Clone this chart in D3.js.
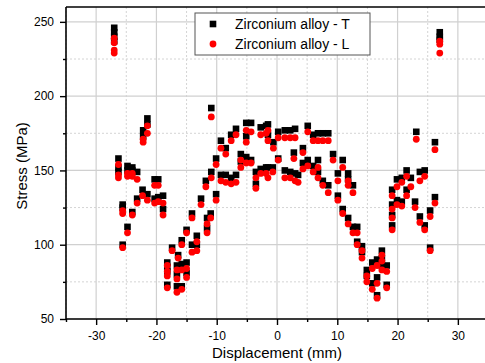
<!DOCTYPE html>
<html>
<head>
<meta charset="utf-8">
<script src="https://cdn.jsdelivr.net/npm/d3@7"></script>
<style>
  body { margin: 0; background: #fff; }
  svg { display: block; font-family: Arial, "Liberation Sans", sans-serif; }
</style>
</head>
<body>
<svg id="chart" width="485" height="363"></svg>
<script>
// displacement (mm) of each measuring point
const displacement = [
  -27.0, -27.0, -27.0, -27.0, -26.3, -26.3, -26.3, -25.6, -25.6, -25.6,
  -24.8, -24.8, -24.8, -24.0, -24.0, -24.0, -23.2, -23.2, -22.3, -22.2,
  -22.2, -21.5, -21.5, -21.5, -20.3, -20.3, -19.7, -19.7, -18.9, -18.9,
  -18.2, -18.2, -18.2, -18.2, -17.4, -16.6, -16.6, -16.6, -16.4, -15.8,
  -15.8, -15.8, -15.0, -15.0, -15.0, -14.1, -14.1, -13.3, -13.3, -12.6,
  -11.8, -11.6, -11.6, -11.0, -10.9, -10.9, -10.1, -10.1, -9.3, -9.3,
  -8.5, -8.5, -7.6, -7.6, -6.8, -6.8, -6.0, -6.0, -5.1, -5.1,
  -5.1, -4.3, -4.3, -3.5, -3.5, -2.7, -2.7, -1.8, -1.8, -1.5,
  -1.5, -1.5, -0.7, -0.6, 0.2, 0.2, 1.3, 1.3, 2.2, 2.2,
  2.8, 3.0, 3.0, 3.5, 4.3, 4.3, 5.1, 5.1, 6.0, 6.0,
  6.8, 6.8, 6.8, 7.6, 7.6, 8.5, 8.5, 9.3, 10.1, 10.1,
  10.9, 10.9, 11.8, 11.8, 11.8, 12.6, 12.6, 13.3, 13.3, 14.1,
  14.1, 14.9, 14.9, 15.8, 15.8, 16.6, 16.6, 16.6, 17.4, 17.4,
  17.4, 18.2, 18.2, 19.1, 19.1, 19.1, 19.1, 19.9, 19.9, 20.7,
  20.7, 21.5, 21.5, 22.2, 22.9, 23.1, 23.7, 23.7, 24.5, 24.5,
  25.4, 25.4, 26.2, 26.2, 27.0, 27.0, 27.0
];

// Zirconium alloy - T (MPa)
const stressT = [
  246, 243, 240, 237, 158, 152, 149, 127, 125, 100,
  153, 150, 112, 152, 150, 122, 149, 131, 137, 177,
  173, 185, 181, 134, 144, 131, 144, 132, 133, 124,
  88, 85, 82, 73, 98, 86, 80, 72, 93, 103,
  87, 72, 110, 88, 81, 121, 100, 106, 100, 131,
  143, 118, 111, 121, 192, 149, 158, 134, 170, 147,
  165, 147, 174, 145, 178, 147, 161, 156, 182, 173,
  159, 182, 157, 149, 141, 179, 151, 180, 152, 181,
  174, 152, 152, 169, 176, 158, 177, 150, 177, 149,
  162, 178, 148, 147, 165, 155, 180, 157, 174, 153,
  175, 157, 149, 175, 143, 175, 140, 161, 148, 133,
  157, 124, 148, 144, 118, 140, 112, 112, 102, 99,
  95, 83, 79, 88, 74, 90, 78, 66, 96, 91,
  86, 86, 73, 137, 127, 120, 113, 144, 130, 145,
  129, 150, 137, 145, 129, 176, 149, 119, 150, 113,
  123, 98, 169, 132, 243, 240, 238
];

// Zirconium alloy - L (MPa)
const stressL = [
  239, 236, 231, 229, 154, 147, 145, 123, 121, 98,
  148, 146, 108, 148, 146, 120, 144, 128, 133, 171,
  169, 180, 175, 130, 140, 128, 140, 129, 128, 120,
  86, 82, 79, 71, 96, 83, 77, 68, 91, 100,
  83, 70, 108, 84, 78, 118, 95, 102, 96, 127,
  139, 114, 108, 118, 186, 145, 154, 130, 165, 143,
  161, 142, 170, 141, 174, 142, 157, 152, 177, 169,
  155, 176, 155, 145, 138, 174, 148, 175, 148, 177,
  170, 145, 149, 165, 172, 157, 172, 145, 172, 145,
  158, 172, 143, 142, 162, 151, 176, 153, 170, 149,
  170, 152, 145, 170, 140, 170, 135, 157, 143, 130,
  152, 121, 143, 140, 114, 135, 108, 108, 100, 96,
  91, 79, 75, 84, 70, 86, 74, 64, 93, 89,
  83, 82, 71, 133, 124, 118, 110, 139, 127, 142,
  126, 146, 133, 139, 125, 171, 143, 115, 146, 110,
  119, 96, 164, 128, 237, 235, 229
];

const xTicks = [-30, -20, -10, 0, 10, 20, 30];
const xMinor = [-35, -25, -15, -5, 5, 15, 25, 35];
const yTicks = [50, 100, 150, 200, 250];
const yMinor = [75, 125, 175, 225];
const seriesNames = ["Zirconium alloy - T", "Zirconium alloy - L"];

const svg = d3.select("#chart");
const plotLeft = 66, plotRight = 488, plotTop = 7, plotBottom = 319;

const x = d3.scaleLinear().domain([-35, 35]).range([plotLeft, plotRight]);
const y = d3.scaleLinear().domain([50, 260]).range([plotBottom, plotTop]);

// grid lines
const grid = svg.append("g");
grid.selectAll(".vmin").data(xMinor).enter().append("line")
  .attr("x1", d => x(d)).attr("x2", d => x(d)).attr("y1", plotTop).attr("y2", plotBottom)
  .attr("stroke", "#d4d4d4").attr("stroke-dasharray", "2,2");
grid.selectAll(".hmin").data(yMinor).enter().append("line")
  .attr("x1", plotLeft).attr("x2", plotRight).attr("y1", d => y(d)).attr("y2", d => y(d))
  .attr("stroke", "#d4d4d4").attr("stroke-dasharray", "2,2");
grid.selectAll(".vmaj").data(xTicks).enter().append("line")
  .attr("x1", d => x(d)).attr("x2", d => x(d)).attr("y1", plotTop).attr("y2", plotBottom)
  .attr("stroke", "#d0d0d0").attr("stroke-width", 1.2);
grid.selectAll(".hmaj").data(yTicks).enter().append("line")
  .attr("x1", plotLeft).attr("x2", plotRight).attr("y1", d => y(d)).attr("y2", d => y(d))
  .attr("stroke", "#d0d0d0").attr("stroke-width", 1.2);

// points: T squares below, L circles on top
const pts = displacement.map((d, i) => ({ x: d, t: stressT[i], l: stressL[i] }));

svg.append("g").selectAll("rect").data(pts).enter().append("rect")
  .attr("x", d => x(d.x) - 3.3).attr("y", d => y(d.t) - 3.3)
  .attr("width", 6.6).attr("height", 6.6).attr("fill", "#000");

svg.append("g").selectAll("circle").data(pts).enter().append("circle")
  .attr("cx", d => x(d.x)).attr("cy", d => y(d.l))
  .attr("r", 3.4).attr("fill", "#ff0000");

// axes (plain hyphen for negative labels, like the original)
const xAxis = svg.append("g").attr("transform", "translate(0," + plotBottom + ")")
  .call(d3.axisBottom(x).tickValues(xTicks).tickSize(6).tickPadding(6).tickFormat(d => String(d)));
const xAxisMinor = svg.append("g").attr("transform", "translate(0," + plotBottom + ")")
  .call(d3.axisBottom(x).tickValues(xMinor).tickSize(3).tickFormat(""));
const yAxis = svg.append("g").attr("transform", "translate(" + plotLeft + ",0)")
  .call(d3.axisLeft(y).tickValues(yTicks).tickSize(6).tickPadding(6).tickFormat(d => String(d)));
const yAxisMinor = svg.append("g").attr("transform", "translate(" + plotLeft + ",0)")
  .call(d3.axisLeft(y).tickValues(yMinor).tickSize(3).tickFormat(""));

[xAxis, xAxisMinor, yAxis, yAxisMinor].forEach(a => {
  a.select(".domain").remove();
  a.selectAll("line").attr("stroke", "#000").attr("stroke-width", 1.4);
  a.selectAll("text").attr("font-size", 12).attr("fill", "#000")
    .attr("font-family", "Arial, 'Liberation Sans', sans-serif");
});

// frame
svg.append("line").attr("x1", plotLeft).attr("x2", plotRight).attr("y1", plotBottom).attr("y2", plotBottom)
  .attr("stroke", "#000").attr("stroke-width", 1.6);
svg.append("line").attr("x1", plotLeft).attr("x2", plotRight).attr("y1", plotTop).attr("y2", plotTop)
  .attr("stroke", "#000").attr("stroke-width", 1.6);
svg.append("line").attr("x1", plotLeft).attr("x2", plotLeft).attr("y1", plotTop).attr("y2", plotBottom)
  .attr("stroke", "#000").attr("stroke-width", 1.6);

// axis titles
svg.append("text").attr("x", x(0)).attr("y", 358).attr("text-anchor", "middle")
  .attr("font-size", 15).text("Displacement (mm)");
svg.append("text").attr("transform", "translate(27," + ((plotTop + plotBottom) / 2 + 3) + ") rotate(-90)")
  .attr("text-anchor", "middle").attr("font-size", 15).text("Stress (MPa)");

// legend
const lg = svg.append("g").attr("transform", "translate(195,13)");
lg.append("rect").attr("width", 175).attr("height", 42)
  .attr("fill", "#fff").attr("stroke", "#555").attr("stroke-width", 1);
const items = lg.selectAll(".item").data(seriesNames).enter().append("g")
  .attr("transform", (d, i) => "translate(0," + (11 + i * 20) + ")");
items.filter((d, i) => i === 0).append("rect")
  .attr("x", 18 - 3.3).attr("y", -3.3).attr("width", 6.6).attr("height", 6.6).attr("fill", "#000");
items.filter((d, i) => i === 1).append("circle")
  .attr("cx", 18).attr("cy", 0).attr("r", 3.4).attr("fill", "#ff0000");
items.append("text").attr("x", 40).attr("y", 5).attr("font-size", 14).text(d => d);
</script>
</body>
</html>
